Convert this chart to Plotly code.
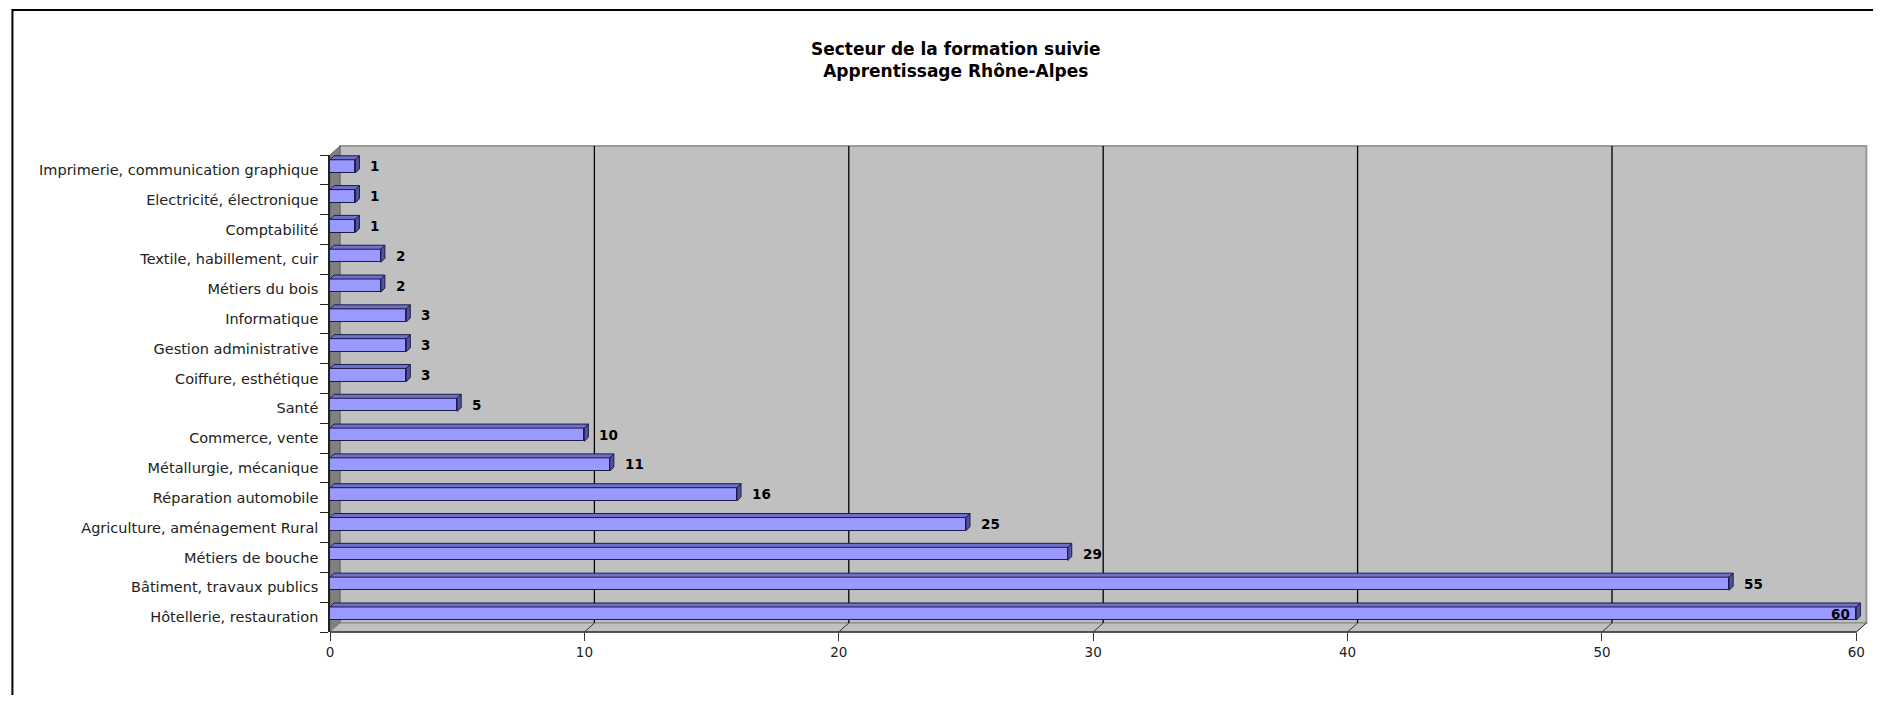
import plotly.graph_objects as go

# ---- data (bottom to top) ----
categories = [
    "Hôtellerie, restauration",
    "Bâtiment, travaux publics",
    "Métiers de bouche",
    "Agriculture, aménagement Rural",
    "Réparation automobile",
    "Métallurgie, mécanique",
    "Commerce, vente",
    "Santé",
    "Coiffure, esthétique",
    "Gestion administrative",
    "Informatique",
    "Métiers du bois",
    "Textile, habillement, cuir",
    "Comptabilité",
    "Electricité, électronique",
    "Imprimerie, communication graphique",
]
values = [60, 55, 29, 25, 16, 11, 10, 5, 3, 3, 3, 2, 2, 1, 1, 1]
x_ticks = [0, 10, 20, 30, 40, 50, 60]
title_lines = ["Secteur de la formation suivie", "Apprentissage Rhône-Alpes"]

# ---- geometry (page pixels; page body has an 8px margin) ----
BODY = 8
W, H = 1881 - 2 * BODY, 703 - 2 * BODY
PL, PT, PB = 330 - BODY, 155 - BODY, 632 - BODY   # front plane edges in figure px
XMAX = 60.3
UNIT = (1856 - 330) / 60.0
PR = PL + XMAX * UNIT
ML, MR, MT, MB = PL, W - PR, PT, H - PB
PW, PH = PR - PL, PB - PT
DX, DY = 10, 9


def px_x(px):
    return (px - PL) / PW


def px_y(py):
    return (PB - py) / PH


def vx(v):
    return PL + v * UNIT


FONT = "DejaVu Sans, Verdana, sans-serif"
BAR_W = 0.44
BAR_OFF = -0.10
dxu = 4 / UNIT
dyu = 4 / (PH / 16.0)

idx = list(range(len(categories)))

fig = go.Figure()

fig.add_trace(go.Bar(
    orientation="h", y=idx, x=values, width=BAR_W, offset=BAR_OFF,
    marker=dict(color="#9999FF", line=dict(color="#1C1C48", width=1)),
    hoverinfo="skip", showlegend=False,
))

top_x, top_y, side_x, side_y = [], [], [], []
for i, v in zip(idx, values):
    yb = i + BAR_OFF
    yt = yb + BAR_W
    top_x += [0, v, v + dxu, dxu, 0, None]
    top_y += [yt, yt, yt + dyu, yt + dyu, yt, None]
    side_x += [v, v + dxu, v + dxu, v, v, None]
    side_y += [yb, yb + dyu, yt + dyu, yt, yb, None]

fig.add_trace(go.Scatter(x=top_x, y=top_y, mode="lines", fill="toself",
                         fillcolor="#6F6FCC", line=dict(color="#1C1C48", width=1),
                         hoverinfo="skip", showlegend=False, cliponaxis=False))
fig.add_trace(go.Scatter(x=side_x, y=side_y, mode="lines", fill="toself",
                         fillcolor="#52529E", line=dict(color="#1C1C48", width=1),
                         hoverinfo="skip", showlegend=False, cliponaxis=False))

shapes = []
shapes.append(dict(type="rect", xref="paper", yref="paper", layer="below",
                   x0=px_x(PL + DX), x1=px_x(vx(60) + DX), y0=px_y(PB - DY), y1=px_y(PT - DY),
                   fillcolor="#C0C0C0", line=dict(color="#999999", width=2)))
shapes.append(dict(type="path", xref="paper", yref="paper", layer="below",
                   path=f"M{px_x(PL)},{px_y(PT)} L{px_x(PL+DX)},{px_y(PT-DY)} "
                        f"L{px_x(PL+DX)},{px_y(PB-DY)} L{px_x(PL)},{px_y(PB)} Z",
                   fillcolor="#808080", line=dict(color="#666666", width=1)))
shapes.append(dict(type="path", xref="paper", yref="paper", layer="below",
                   path=f"M{px_x(PL)},{px_y(PB)} L{px_x(PL+DX)},{px_y(PB-DY)} "
                        f"L{px_x(vx(60)+DX)},{px_y(PB-DY)} L{px_x(vx(60))},{px_y(PB)} Z",
                   fillcolor="#C0C0C0", line=dict(color="#888888", width=1)))
for k in x_ticks[1:]:
    if k < 60:
        shapes.append(dict(type="line", xref="paper", yref="paper", layer="below",
                           x0=px_x(vx(k) + DX), x1=px_x(vx(k) + DX),
                           y0=px_y(PB - DY), y1=px_y(PT - DY),
                           line=dict(color="#000000", width=1.3)))
    shapes.append(dict(type="line", xref="paper", yref="paper", layer="below",
                       x0=px_x(vx(k)), x1=px_x(vx(k) + DX),
                       y0=px_y(PB), y1=px_y(PB - DY),
                       line=dict(color="#333333", width=1)))
shapes.append(dict(type="line", xref="paper", yref="paper", layer="above",
                   x0=px_x(PL), x1=px_x(vx(60)), y0=px_y(PB), y1=px_y(PB),
                   line=dict(color="#333333", width=1.5)))
# outer chart border
shapes.append(dict(type="rect", xref="paper", yref="paper", layer="below",
                   x0=px_x(12.5 - BODY), x1=px_x(W + 30), y0=px_y(H + 30), y1=px_y(10 - BODY),
                   line=dict(color="#000000", width=2), fillcolor="rgba(0,0,0,0)"))

annotations = []
for i, v in zip(idx, values):
    inside = v >= 60
    annotations.append(dict(
        x=v, y=i + 0.12, xref="x", yref="y", text=f"<b>{v}</b>", showarrow=False,
        xanchor="right" if inside else "left", xshift=-4 if inside else 13,
        font=dict(family=FONT, size=13.5, color="#000000"),
    ))
annotations.append(dict(
    x=px_x(956 - BODY), y=px_y(60 - BODY), xref="paper", yref="paper", showarrow=False,
    text="<b>" + "<br>".join(title_lines) + "</b>",
    font=dict(family=FONT, size=17, color="#000000"), xanchor="center", yanchor="middle",
))

fig.update_layout(
    width=W, height=H,
    margin=dict(l=ML, r=MR, t=MT, b=MB, pad=0),
    paper_bgcolor="#FFFFFF", plot_bgcolor="rgba(0,0,0,0)",
    shapes=shapes, annotations=annotations,
    bargap=0, showlegend=False,
    xaxis=dict(range=[0, XMAX], tickvals=x_ticks, ticktext=[str(t) for t in x_ticks],
               showgrid=False, zeroline=False, showline=False,
               ticks="outside", ticklen=8, tickcolor="#333333",
               tickfont=dict(family=FONT, size=13.5, color="#222222")),
    yaxis=dict(range=[-0.5, 15.5], tickvals=idx, ticktext=categories,
               showgrid=False, zeroline=False, showline=True, linecolor="#222222", linewidth=1.5,
               ticks="outside", ticklen=7, tickcolor="rgba(0,0,0,0)",
               minor=dict(tick0=-0.5, dtick=1, ticks="outside", ticklen=8, tickcolor="#222222",
                          showgrid=False),
               tickfont=dict(family=FONT, size=14.5, color="#222222")),
)

fig.write_html("out.html")
